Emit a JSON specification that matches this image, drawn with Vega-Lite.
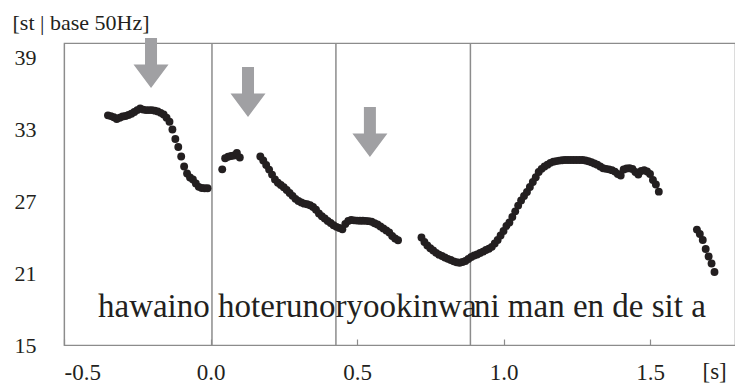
{
  "$schema": "https://vega.github.io/schema/vega-lite/v6.json",
  "width": 671,
  "height": 302,
  "autosize": {"type": "none"},
  "padding": {"left": 64, "top": 43, "right": 0, "bottom": 41},
  "background": "white",
  "config": {
    "view": {"stroke": "#8c8c8c", "strokeWidth": 1.2},
    "font": "Liberation Serif, Times New Roman, serif"
  },
  "datasets": {
    "pitch": [
      {"t": -0.35, "v": 34.14}, {"t": -0.34, "v": 34.08}, {"t": -0.33, "v": 33.98}, {"t": -0.32, "v": 33.83},
      {"t": -0.31, "v": 33.94}, {"t": -0.30, "v": 34.04}, {"t": -0.29, "v": 34.09}, {"t": -0.28, "v": 34.17},
      {"t": -0.27, "v": 34.27}, {"t": -0.26, "v": 34.42}, {"t": -0.25, "v": 34.58}, {"t": -0.24, "v": 34.71},
      {"t": -0.23, "v": 34.62}, {"t": -0.22, "v": 34.58}, {"t": -0.21, "v": 34.58}, {"t": -0.20, "v": 34.58},
      {"t": -0.19, "v": 34.53}, {"t": -0.18, "v": 34.47}, {"t": -0.17, "v": 34.35}, {"t": -0.16, "v": 34.21},
      {"t": -0.15, "v": 33.95}, {"t": -0.14, "v": 33.61}, {"t": -0.13, "v": 32.96}, {"t": -0.12, "v": 32.17},
      {"t": -0.11, "v": 31.5}, {"t": -0.10, "v": 30.71}, {"t": -0.09, "v": 29.88}, {"t": -0.08, "v": 29.29},
      {"t": -0.07, "v": 28.96}, {"t": -0.06, "v": 28.79}, {"t": -0.05, "v": 28.47}, {"t": -0.04, "v": 28.18},
      {"t": -0.03, "v": 28.08}, {"t": -0.02, "v": 28.06}, {"t": -0.01, "v": 28.06},
      {"t": 0.04, "v": 29.64}, {"t": 0.05, "v": 30.56}, {"t": 0.06, "v": 30.69}, {"t": 0.07, "v": 30.75},
      {"t": 0.08, "v": 30.79}, {"t": 0.09, "v": 31.0}, {"t": 0.10, "v": 30.63},
      {"t": 0.17, "v": 30.71}, {"t": 0.18, "v": 30.38}, {"t": 0.19, "v": 30.0}, {"t": 0.20, "v": 29.62},
      {"t": 0.21, "v": 29.2}, {"t": 0.22, "v": 28.79}, {"t": 0.23, "v": 28.52}, {"t": 0.24, "v": 28.33},
      {"t": 0.25, "v": 28.15}, {"t": 0.26, "v": 27.92}, {"t": 0.27, "v": 27.67}, {"t": 0.28, "v": 27.43},
      {"t": 0.29, "v": 27.18}, {"t": 0.30, "v": 27.0}, {"t": 0.31, "v": 26.88}, {"t": 0.32, "v": 26.78},
      {"t": 0.33, "v": 26.73}, {"t": 0.34, "v": 26.65}, {"t": 0.35, "v": 26.5}, {"t": 0.36, "v": 26.27},
      {"t": 0.37, "v": 25.96}, {"t": 0.38, "v": 25.73}, {"t": 0.39, "v": 25.54}, {"t": 0.40, "v": 25.33},
      {"t": 0.41, "v": 25.17}, {"t": 0.42, "v": 24.98}, {"t": 0.43, "v": 24.85}, {"t": 0.44, "v": 24.75},
      {"t": 0.45, "v": 24.64}, {"t": 0.46, "v": 25.08}, {"t": 0.47, "v": 25.33}, {"t": 0.48, "v": 25.42},
      {"t": 0.49, "v": 25.39}, {"t": 0.50, "v": 25.37}, {"t": 0.51, "v": 25.36}, {"t": 0.52, "v": 25.36},
      {"t": 0.53, "v": 25.35}, {"t": 0.54, "v": 25.32}, {"t": 0.55, "v": 25.27}, {"t": 0.56, "v": 25.15},
      {"t": 0.57, "v": 25.04}, {"t": 0.58, "v": 24.88}, {"t": 0.59, "v": 24.72}, {"t": 0.60, "v": 24.55},
      {"t": 0.61, "v": 24.38}, {"t": 0.62, "v": 24.08}, {"t": 0.63, "v": 23.88}, {"t": 0.64, "v": 23.73},
      {"t": 0.72, "v": 23.96}, {"t": 0.73, "v": 23.58}, {"t": 0.74, "v": 23.29}, {"t": 0.75, "v": 23.06},
      {"t": 0.76, "v": 22.88}, {"t": 0.77, "v": 22.68}, {"t": 0.78, "v": 22.53}, {"t": 0.79, "v": 22.42},
      {"t": 0.80, "v": 22.29}, {"t": 0.81, "v": 22.18}, {"t": 0.82, "v": 22.08}, {"t": 0.83, "v": 21.97},
      {"t": 0.84, "v": 21.9}, {"t": 0.85, "v": 21.85}, {"t": 0.86, "v": 21.92}, {"t": 0.87, "v": 22.0},
      {"t": 0.88, "v": 22.17}, {"t": 0.89, "v": 22.33}, {"t": 0.90, "v": 22.46}, {"t": 0.91, "v": 22.54},
      {"t": 0.92, "v": 22.67}, {"t": 0.93, "v": 22.78}, {"t": 0.94, "v": 22.92}, {"t": 0.95, "v": 23.02},
      {"t": 0.96, "v": 23.18}, {"t": 0.97, "v": 23.46}, {"t": 0.98, "v": 23.75}, {"t": 0.99, "v": 24.13},
      {"t": 1.00, "v": 24.5}, {"t": 1.01, "v": 24.92}, {"t": 1.02, "v": 25.21}, {"t": 1.03, "v": 25.67},
      {"t": 1.04, "v": 26.14}, {"t": 1.05, "v": 26.62}, {"t": 1.06, "v": 27.04}, {"t": 1.07, "v": 27.42},
      {"t": 1.08, "v": 27.75}, {"t": 1.09, "v": 28.17}, {"t": 1.10, "v": 28.58}, {"t": 1.11, "v": 28.98},
      {"t": 1.12, "v": 29.42}, {"t": 1.13, "v": 29.68}, {"t": 1.14, "v": 29.88}, {"t": 1.15, "v": 30.03},
      {"t": 1.16, "v": 30.18}, {"t": 1.17, "v": 30.28}, {"t": 1.18, "v": 30.33}, {"t": 1.19, "v": 30.37},
      {"t": 1.20, "v": 30.4}, {"t": 1.21, "v": 30.42}, {"t": 1.22, "v": 30.42}, {"t": 1.23, "v": 30.42},
      {"t": 1.24, "v": 30.42}, {"t": 1.25, "v": 30.42}, {"t": 1.26, "v": 30.42}, {"t": 1.27, "v": 30.42},
      {"t": 1.28, "v": 30.38}, {"t": 1.29, "v": 30.31}, {"t": 1.30, "v": 30.23}, {"t": 1.31, "v": 30.13},
      {"t": 1.32, "v": 30.03}, {"t": 1.33, "v": 29.88}, {"t": 1.34, "v": 29.73}, {"t": 1.35, "v": 29.68},
      {"t": 1.36, "v": 29.64}, {"t": 1.37, "v": 29.57}, {"t": 1.38, "v": 29.45}, {"t": 1.39, "v": 29.25},
      {"t": 1.40, "v": 29.13}, {"t": 1.41, "v": 29.63}, {"t": 1.42, "v": 29.71}, {"t": 1.43, "v": 29.73},
      {"t": 1.44, "v": 29.67}, {"t": 1.45, "v": 29.42}, {"t": 1.46, "v": 29.21}, {"t": 1.47, "v": 29.5},
      {"t": 1.48, "v": 29.57}, {"t": 1.49, "v": 29.46}, {"t": 1.50, "v": 29.25}, {"t": 1.51, "v": 28.75},
      {"t": 1.52, "v": 28.38}, {"t": 1.53, "v": 27.78},
      {"t": 1.66, "v": 24.62}, {"t": 1.67, "v": 24.25}, {"t": 1.68, "v": 23.75}, {"t": 1.69, "v": 23.0},
      {"t": 1.70, "v": 22.38}, {"t": 1.71, "v": 21.79}, {"t": 1.72, "v": 21.08}
    ],
    "bounds": [{"t": 0.005}, {"t": 0.428}, {"t": 0.887}],
    "arrows": [{"t": -0.203, "v": 38.5}, {"t": 0.128, "v": 36.08}, {"t": 0.544, "v": 32.75}],
    "words": [
      {"t": -0.384, "v": 17.33, "label": "hawaino"},
      {"t": 0.026, "v": 17.33, "label": "hoterunoryookinwa"},
      {"t": 0.899, "v": 17.33, "label": "ni man en de sit a"}
    ]
  },
  "encoding": {
    "x": {
      "field": "t",
      "type": "quantitative",
      "scale": {"domain": [-0.5, 1.79], "nice": false, "zero": false},
      "axis": {
        "values": [-0.5, 0, 0.5, 1, 1.5],
        "labelExpr": "replace(format(datum.value, '.1f'), '\u2212', '-')",
        "grid": false,
        "domainColor": "#8c8c8c",
        "domainWidth": 1.2,
        "tickColor": "#8c8c8c",
        "tickWidth": 1.2,
        "tickSize": -6,
        "labelFont": "Liberation Serif, Times New Roman, serif",
        "labelFontSize": 23,
        "labelColor": "#231f20",
        "labelPadding": 22,
        "title": "[s]",
        "titleFont": "Liberation Serif, Times New Roman, serif",
        "titleFontSize": 23,
        "titleFontWeight": "normal",
        "titleColor": "#231f20",
        "titleAlign": "left",
        "titleBaseline": "alphabetic",
        "titleX": 638,
        "titleY": 33
      }
    }
  },
  "layer": [
    {
      "data": {"name": "bounds"},
      "mark": {"type": "rule", "color": "#8c8c8c", "strokeWidth": 1.5},
      "encoding": {"x": {"field": "t", "type": "quantitative"}}
    },
    {
      "data": {"name": "pitch"},
      "mark": {"type": "circle", "size": 62, "color": "#231f20", "opacity": 1},
      "encoding": {
        "y": {
          "field": "v",
          "type": "quantitative",
          "scale": {"domain": [15, 40.17], "nice": false, "zero": false},
          "axis": {
            "values": [15, 21, 27, 33, 39],
            "grid": false,
            "ticks": false,
            "domainColor": "#8c8c8c",
            "domainWidth": 1.2,
            "labelFont": "Liberation Serif, Times New Roman, serif",
            "labelFontSize": 22,
            "labelColor": "#231f20",
            "labelPadding": 28,
            "title": "[st | base 50Hz]",
            "titleFont": "Liberation Serif, Times New Roman, serif",
            "titleFontSize": 22,
            "titleFontWeight": "normal",
            "titleColor": "#231f20",
            "titleAngle": 0,
            "titleAlign": "left",
            "titleBaseline": "alphabetic",
            "titleX": -52,
            "titleY": -14
          }
        }
      }
    },
    {
      "data": {"name": "arrows"},
      "mark": {
        "type": "point",
        "shape": "M-0.24,-1 L0.24,-1 L0.24,0.06 L0.7,0.06 L0,1 L-0.7,0.06 L-0.24,0.06 Z",
        "size": 2500,
        "filled": true,
        "color": "#a0a0a3",
        "opacity": 1,
        "strokeWidth": 0
      },
      "encoding": {"y": {"field": "v", "type": "quantitative"}}
    },
    {
      "data": {"name": "words"},
      "mark": {
        "type": "text",
        "align": "left",
        "baseline": "alphabetic",
        "font": "Liberation Serif, Times New Roman, serif",
        "fontSize": 33,
        "color": "#231f20"
      },
      "encoding": {
        "y": {"field": "v", "type": "quantitative"},
        "text": {"field": "label"}
      }
    }
  ]
}
